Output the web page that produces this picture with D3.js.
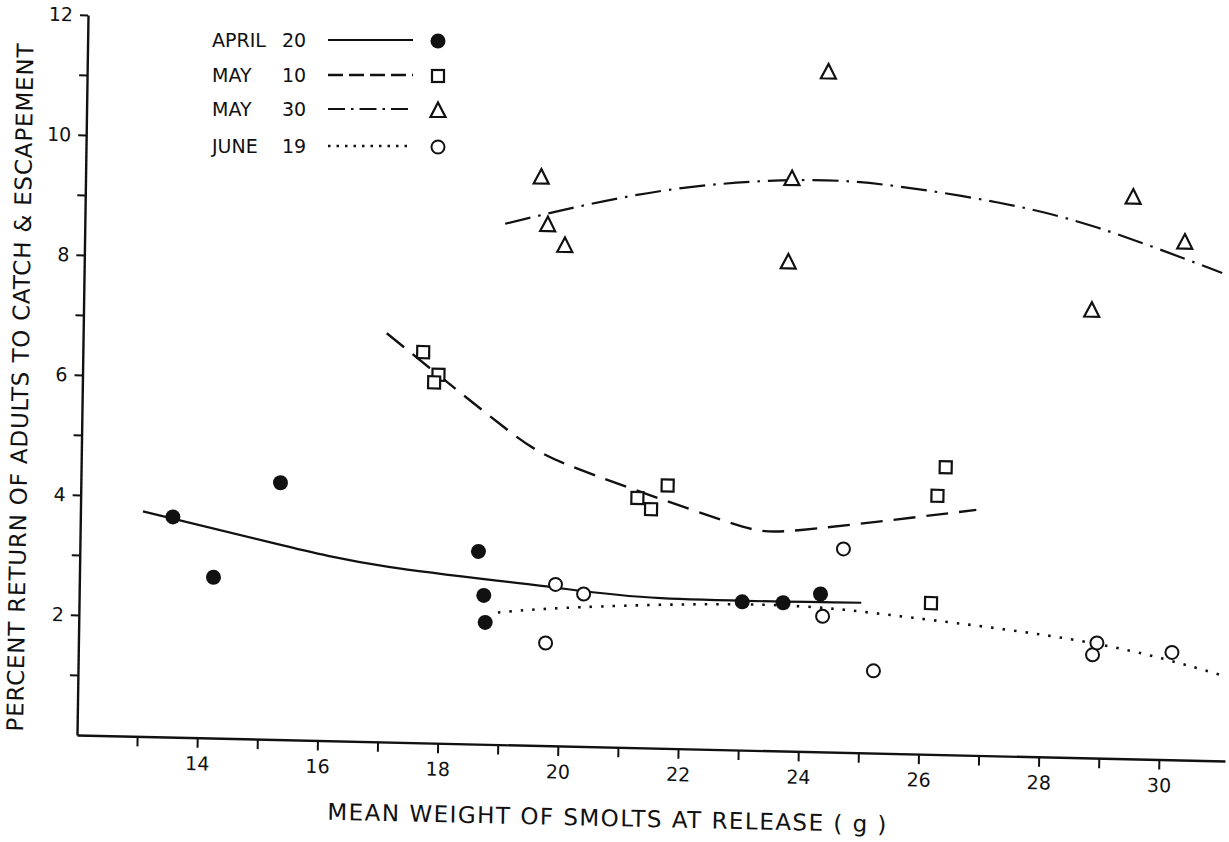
<!DOCTYPE html>
<html>
<head>
<meta charset="utf-8">
<script src="https://cdn.jsdelivr.net/npm/d3@7"></script>
<style>
  html, body { margin: 0; background: #fff; }
  svg { display: block; }
  text { font-family: "DejaVu Sans", "Liberation Sans", sans-serif; fill: #111; }
</style>
</head>
<body>
<svg id="chart" width="1229" height="842"></svg>
<script>
// ---- Axis ticks ----
const xMajorTicks = [14, 16, 18, 20, 22, 24, 26, 28, 30];
const xMinorTicks = [13, 15, 17, 19, 21, 23, 25, 27, 29];
const yMajorTicks = [2, 4, 6, 8, 10, 12];
const yMinorTicks = [1, 3, 5, 7, 9, 11];

// ---- Observations: [mean weight (g), percent return] ----
const april20 = [[13.54, 3.67], [14.23, 2.68], [15.32, 4.28], [18.63, 3.21], [18.73, 2.48],
                 [18.76, 2.03], [23.03, 2.47], [23.71, 2.47], [24.33, 2.63]];
const may10   = [[17.66, 6.51], [17.92, 6.14], [17.85, 6.01], [21.26, 4.16], [21.49, 3.98],
                 [21.76, 4.38], [26.17, 2.52], [26.25, 4.31], [26.38, 4.79]];
const may30   = [[19.58, 9.48], [19.70, 8.69], [19.99, 8.35], [23.75, 9.55], [23.71, 8.16],
                 [24.33, 11.34], [29.43, 9.37], [30.30, 8.64], [28.77, 7.47]];
const june19  = [[19.92, 2.69], [20.39, 2.54], [19.77, 1.71], [24.70, 3.39], [24.37, 2.26],
                 [25.23, 1.37], [28.87, 1.72], [28.94, 1.92], [30.19, 1.79]];

// ---- Fitted curves, traced as points along each curve ----
const april20Fit = [[13.04, 3.75], [15.22, 3.27], [17.14, 2.92], [19.69, 2.66], [21.68, 2.50], [25.01, 2.50]];
const may10Fit   = [[17.05, 6.81], [19.01, 5.30], [20.30, 4.61], [22.66, 3.83], [23.99, 3.69], [26.90, 4.09]];
const may30Fit   = [[18.99, 8.68], [21.55, 9.28], [23.90, 9.52], [25.52, 9.45], [27.18, 9.22], [28.84, 8.84], [30.93, 8.13]];
const june19Fit  = [[18.97, 2.20], [20.35, 2.32], [23.35, 2.43], [25.87, 2.27], [28.84, 1.92], [31.05, 1.42]];

// ---- Legend entries ----
const legendNames = ["APRIL", "MAY", "MAY", "JUNE"];
const legendDays  = ["20", "10", "30", "19"];

const series = [
  { pts: april20, fit: april20Fit, marker: "dot",      dash: null,         width: 2.2 },
  { pts: may10,   fit: may10Fit,   marker: "square",   dash: "22 11",      width: 2.4 },
  { pts: may30,   fit: may30Fit,   marker: "triangle", dash: "26 8 2.5 8", width: 2.2 },
  { pts: june19,  fit: june19Fit,  marker: "circle",   dash: "2.5 9",      width: 2.6 }
];
const legendDash = [null, "15 6", "17 6 2.5 6", "2.5 6"];

const svg = d3.select("#chart");
svg.append("rect").attr("width", 1229).attr("height", 842).attr("fill", "#fff");

const x = d3.scaleLinear().domain([12, 31.1]).range([0, 1148]);
const y = d3.scaleLinear().domain([0, 12]).range([0, -720]);

// The plot frame sits slightly askew on the sheet
const g = svg.append("g").attr("transform", "matrix(1,0.0227,-0.0153,1,77,735)");

// ---- Axes ----
const xAxis = d3.axisBottom(x)
  .tickValues([...xMinorTicks, ...xMajorTicks].sort((a, b) => a - b))
  .tickFormat(d => xMajorTicks.includes(d) ? d : "")
  .tickSize(10).tickPadding(9).tickSizeOuter(0);
const yAxis = d3.axisLeft(y)
  .tickValues([...yMinorTicks, ...yMajorTicks].sort((a, b) => a - b))
  .tickFormat(d => yMajorTicks.includes(d) ? d : "")
  .tickSize(8).tickPadding(7).tickSizeOuter(0);

const gx = g.append("g").call(xAxis);
const gy = g.append("g").call(yAxis);
[gx, gy].forEach(a => {
  a.select(".domain").attr("stroke", "#111").attr("stroke-width", 2.4);
  a.selectAll(".tick line").attr("stroke", "#111").attr("stroke-width", 2);
  a.selectAll(".tick text").attr("font-size", 19).attr("fill", "#111").attr("font-family", "DejaVu Sans, sans-serif");
});

// Axis titles
g.append("text")
  .attr("transform", "translate(-62,-346) rotate(-90)")
  .attr("text-anchor", "middle").attr("dominant-baseline", "central")
  .attr("font-size", 23)
  .attr("textLength", 688).attr("lengthAdjust", "spacing")
  .text("PERCENT RETURN OF ADULTS TO CATCH & ESCAPEMENT");

g.append("text")
  .attr("x", 531).attr("y", 79)
  .attr("text-anchor", "middle")
  .attr("font-size", 23)
  .attr("textLength", 559).attr("lengthAdjust", "spacing")
  .text("MEAN WEIGHT OF SMOLTS AT RELEASE ( g )");

// ---- Curves ----
const line = d3.line().x(d => x(d[0])).y(d => y(d[1])).curve(d3.curveNatural);
series.forEach(s => {
  g.append("path")
    .attr("d", line(s.fit))
    .attr("fill", "none")
    .attr("stroke", "#111")
    .attr("stroke-width", s.width)
    .attr("stroke-dasharray", s.dash);
});

// ---- Markers ----
function drawMarker(sel, type) {
  if (type === "dot") {
    sel.append("circle").attr("r", 7.5).attr("fill", "#111");
  } else if (type === "circle") {
    sel.append("circle").attr("r", 6.5).attr("fill", "#fff").attr("stroke", "#111").attr("stroke-width", 2);
  } else if (type === "square") {
    sel.append("rect").attr("x", -6).attr("y", -6).attr("width", 12).attr("height", 12)
      .attr("fill", "#fff").attr("stroke", "#111").attr("stroke-width", 2.2);
  } else {
    sel.append("path").attr("d", "M0,-7.5L7.5,7L-7.5,7Z")
      .attr("fill", "#fff").attr("stroke", "#111").attr("stroke-width", 2.2).attr("stroke-linejoin", "miter");
  }
}
series.forEach(s => {
  g.append("g").selectAll("g").data(s.pts).join("g")
    .attr("transform", d => `translate(${x(d[0])},${y(d[1])})`)
    .each(function () { drawMarker(d3.select(this), s.marker); });
});

// ---- Legend ----
const legendRowY = [40, 75, 109, 146];
const legend = svg.append("g");
series.forEach((s, i) => {
  const row = legend.append("g").attr("transform", `translate(0,${legendRowY[i]})`);
  row.append("text").attr("x", 212).attr("dominant-baseline", "central").attr("font-size", 19)
    .text(legendNames[i]);
  row.append("text").attr("x", 294).attr("text-anchor", "middle").attr("dominant-baseline", "central")
    .attr("font-size", 19).text(legendDays[i]);
  row.append("line").attr("x1", 328).attr("x2", 413).attr("y1", 0).attr("y2", 0)
    .attr("stroke", "#111").attr("stroke-width", s.width)
    .attr("stroke-dasharray", legendDash[i]);
  const m = row.append("g").attr("transform", "translate(438,1)");
  drawMarker(m, s.marker);
});
</script>
</body>
</html>
